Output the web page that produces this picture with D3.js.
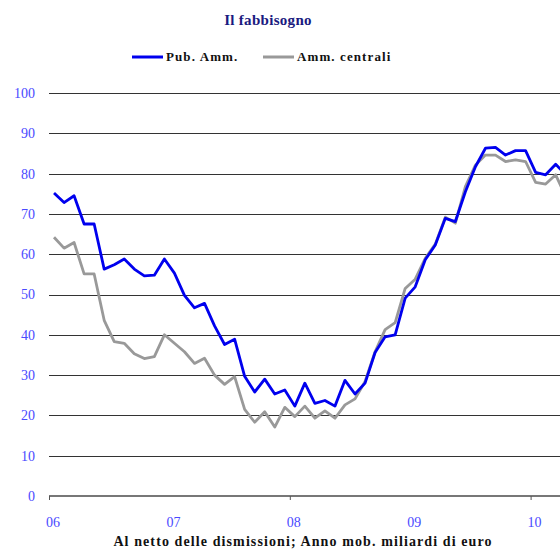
<!DOCTYPE html>
<html>
<head>
<meta charset="utf-8">
<script src="https://cdn.jsdelivr.net/npm/d3@7"></script>
<style>
    body { margin: 0; background: #fff; }
    svg text { font-family: "Liberation Serif", "Times New Roman", serif; }
</style>
</head>
<body>
<div id="chart"></div>
<script>
// chart size
const width = 560;
const height = 550;
const plotLeft = 49;
const plotTop = 93;
const plotBottom = 496;

// monthly values, Jan 2006 onward
const pubAmm = [75.2, 72.8, 74.5, 67.5, 67.5, 56.3, 57.4, 58.8, 56.3, 54.6, 54.8, 58.8,
    55.3, 49.8, 46.7, 47.8, 42.2, 37.6, 38.9, 29.7, 25.8, 29.0, 25.3, 26.3,
    22.3, 28.0, 23.0, 23.7, 22.3, 28.7, 25.3, 28.0, 35.6, 39.5, 40.0, 49.1,
    51.9, 58.6, 62.3, 68.9, 68.1, 75.5, 81.7, 86.3, 86.5, 84.6, 85.7, 85.7,
    80.3, 79.7, 82.3, 79.8];
const ammCentrali = [64.2, 61.5, 62.9, 55.1, 55.1, 43.6, 38.3, 37.9, 35.3, 34.1, 34.6, 40.0,
    37.9, 35.8, 32.9, 34.2, 30.0, 27.7, 29.6, 21.5, 18.3, 20.9, 17.1, 22.0,
    19.7, 22.3, 19.3, 21.1, 19.3, 22.6, 24.1, 28.4, 35.8, 41.3, 43.0, 51.5,
    53.8, 59.0, 62.5, 69.2, 67.7, 76.8, 82.1, 84.6, 84.6, 83.0, 83.4, 83.0,
    77.8, 77.4, 79.7, 74.3];
const yearLabels = ["06", "07", "08", "09", "10"];
const yTicks = [0, 10, 20, 30, 40, 50, 60, 70, 80, 90, 100];

const svg = d3.select("#chart")
    .append("svg")
    .attr("width", width)
    .attr("height", height);

// x in months since Jan 2006, points sit mid-month
const xScale = d3.scaleLinear()
    .domain([0, 12])
    .range([plotLeft, plotLeft + 120.4]);

const yScale = d3.scaleLinear()
    .domain([0, 100])
    .range([plotBottom, plotTop]);

// clip so lines stop at the right edge
svg.append("clipPath").attr("id", "clip")
    .append("rect")
    .attr("x", plotLeft).attr("y", 0)
    .attr("width", width - plotLeft).attr("height", height);

// gridlines
svg.append("g")
    .selectAll("line")
    .data(yTicks.filter(d => d > 0))
    .enter()
    .append("line")
    .attr("x1", plotLeft)
    .attr("x2", width)
    .attr("y1", d => Math.round(yScale(d)) + 0.5)
    .attr("y2", d => Math.round(yScale(d)) + 0.5)
    .attr("stroke", "#333")
    .attr("stroke-width", 1.2);

// y labels
svg.append("g")
    .selectAll("text")
    .data(yTicks)
    .enter()
    .append("text")
    .attr("x", 35)
    .attr("y", d => yScale(d))
    .attr("dy", "0.35em")
    .attr("text-anchor", "end")
    .attr("fill", "#4a4aff")
    .style("font-size", "14px")
    .text(d => d);

// baseline with ticks every two years
svg.append("line")
    .attr("x1", plotLeft)
    .attr("x2", width)
    .attr("y1", yScale(0))
    .attr("y2", yScale(0))
    .attr("stroke", "#777")
    .attr("stroke-width", 2);

svg.append("g")
    .selectAll("line")
    .data([0, 2, 4])
    .enter()
    .append("line")
    .attr("x1", d => xScale(d * 12) + 0.5)
    .attr("x2", d => xScale(d * 12) + 0.5)
    .attr("y1", yScale(0))
    .attr("y2", yScale(0) + 4)
    .attr("stroke", "#555")
    .attr("stroke-width", 1);

// year labels
svg.append("g")
    .selectAll("text")
    .data(yearLabels)
    .enter()
    .append("text")
    .attr("x", (d, i) => xScale(i * 12) + 4)
    .attr("y", 527)
    .attr("text-anchor", "middle")
    .attr("fill", "#4a4aff")
    .style("font-size", "14px")
    .text(d => d);

// lines
const line = d3.line()
    .x((d, i) => xScale(i + 0.5))
    .y(d => yScale(d));

const plot = svg.append("g").attr("clip-path", "url(#clip)");

plot.append("path")
    .datum(ammCentrali)
    .attr("fill", "none")
    .attr("stroke", "#999")
    .attr("stroke-width", 2.8)
    .attr("stroke-linejoin", "round")
    .attr("d", line);

plot.append("path")
    .datum(pubAmm)
    .attr("fill", "none")
    .attr("stroke", "#0000ee")
    .attr("stroke-width", 2.8)
    .attr("stroke-linejoin", "round")
    .attr("d", line);

// title
svg.append("text")
    .attr("x", 268)
    .attr("y", 25)
    .attr("text-anchor", "middle")
    .attr("fill", "#1a1a80")
    .style("font-size", "15px")
    .style("font-weight", "bold")
    .style("letter-spacing", "0.3px")
    .text("Il fabbisogno");

// legend
const legend = [
    { name: "Pub. Amm.", color: "#0000ee", x: 132 },
    { name: "Amm. centrali", color: "#999", x: 263 }
];

legend.forEach(d => {
    svg.append("line")
        .attr("x1", d.x)
        .attr("x2", d.x + 31)
        .attr("y1", 57)
        .attr("y2", 57)
        .attr("stroke", d.color)
        .attr("stroke-width", 3);
    svg.append("text")
        .attr("x", d.x + 34)
        .attr("y", 61)
        .attr("fill", "#111")
        .style("font-size", "13px")
        .style("font-weight", "bold")
        .style("letter-spacing", "1.1px")
        .text(d.name);
});

// caption
svg.append("text")
    .attr("x", 303)
    .attr("y", 546)
    .attr("text-anchor", "middle")
    .attr("fill", "#111")
    .style("font-size", "14px")
    .style("font-weight", "bold")
    .style("letter-spacing", "1.1px")
    .text("Al netto delle dismissioni; Anno mob. miliardi di euro");
</script>
</body>
</html>
